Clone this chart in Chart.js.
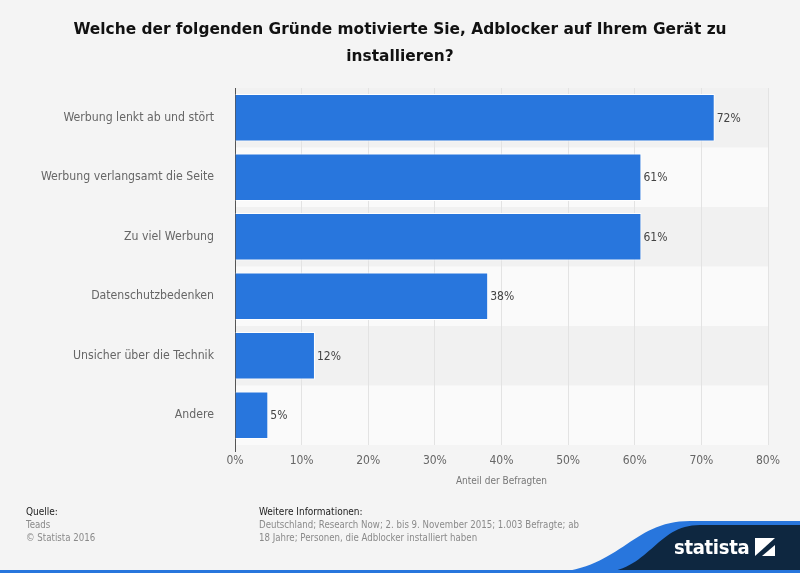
<!DOCTYPE html>
<html>
<head>
<meta charset="utf-8">
<script src="https://cdn.jsdelivr.net/npm/chart.js@4"></script>
<style>
  body { margin: 0; background: #f4f4f4; }
  #wrap { position: relative; width: 800px; height: 573px; overflow: hidden; background: #f4f4f4; }
  #chart { position: absolute; left: 0; top: 0; }
  #title { position: absolute; left: 0; top: 16px; width: 800px; text-align: center;
    font: bold 15.4px "DejaVu Sans", Verdana, sans-serif; color: #111; line-height: 27px; }
  .foot { position: absolute; font: 9.6px "DejaVu Sans Condensed", "DejaVu Sans", sans-serif; line-height: 13px; color: #8a8a8a; }
  .foot b { font-weight: normal; color: #222; font-size: 10px; }
  #logo { position: absolute; left: 0; top: 0; }
  #brand { position: absolute; left: 674px; top: 535px; font: bold 20px "DejaVu Sans Condensed", "DejaVu Sans", sans-serif; color: #fff; letter-spacing: -0.3px; }
</style>
</head>
<body>
<div id="wrap">
  <svg id="logo" width="800" height="573">
    <path d="M 545 573 C 620 572, 630 521, 690 521 L 800 521 L 800 573 Z" fill="#2876dd"/>
    <path d="M 598 573 C 650 572, 655 525, 700 525 L 800 525 L 800 573 Z" fill="#0e2740"/>
    <rect x="0" y="570" width="800" height="3" fill="#2876dd"/>
    <rect x="755" y="538" width="20" height="18" fill="#fff"/>
    <polygon points="755,556 762,556 775,545 775,538" fill="#0e2740"/>
  </svg>
  <canvas id="chart" width="800" height="573"></canvas>
  <div id="title">Welche der folgenden Gründe motivierte Sie, Adblocker auf Ihrem Gerät zu<br>installieren?</div>
  <div class="foot" style="left:26px; top:505px;"><b>Quelle:</b><br>Teads<br>© Statista 2016</div>
  <div class="foot" style="left:259px; top:505px;"><b>Weitere Informationen:</b><br>Deutschland; Research Now; 2. bis 9. November 2015; 1.003 Befragte; ab<br>18 Jahre; Personen, die Adblocker installiert haben</div>
  <div id="brand">statista</div>
</div>
<script>
// Data
const categories = ['Werbung lenkt ab und stört', 'Werbung verlangsamt die Seite', 'Zu viel Werbung', 'Datenschutzbedenken', 'Unsicher über die Technik', 'Andere'];
const values = [72, 61, 61, 38, 12, 5];
const xTicks = [0, 10, 20, 30, 40, 50, 60, 70, 80];
const xTitle = 'Anteil der Befragten';

// Alternating row bands behind the bars
const bands = {
  id: 'bands',
  beforeDraw(chart) {
    const { ctx, chartArea, scales } = chart;
    const y = scales.y;
    const step = (chartArea.bottom - chartArea.top) / categories.length;
    categories.forEach((c, i) => {
      const mid = y.getPixelForValue(i);
      ctx.fillStyle = i % 2 ? '#fafafa' : '#f1f1f1';
      ctx.fillRect(chartArea.left, mid - step / 2, chartArea.right - chartArea.left, step);
    });
  }
};

// Value labels to the right of each bar
const valueLabels = {
  id: 'valueLabels',
  afterDatasetsDraw(chart) {
    const { ctx } = chart;
    ctx.save();
    ctx.font = '12px "DejaVu Sans Condensed", "DejaVu Sans", sans-serif';
    ctx.fillStyle = '#444';
    ctx.textBaseline = 'middle';
    chart.getDatasetMeta(0).data.forEach((bar, i) => {
      ctx.fillText(values[i] + '%', bar.x + 2, bar.y + 1);
    });
    ctx.restore();
  }
};

new Chart(document.getElementById('chart'), {
  type: 'bar',
  data: {
    labels: categories,
    datasets: [{
      data: values,
      backgroundColor: '#2876dd',
      borderColor: '#ffffff',
      borderWidth: 1,
      barPercentage: 0.8,
      categoryPercentage: 1
    }]
  },
  options: {
    indexAxis: 'y',
    responsive: false,
    animation: false,
    layout: { padding: { top: 88, right: 32, left: 0, bottom: 86 } },
    plugins: { legend: { display: false }, tooltip: { enabled: false } },
    scales: {
      x: {
        min: 0,
        max: 80,
        afterBuildTicks: (s) => { s.ticks = xTicks.map(v => ({ value: v })); },
        afterFit: (s) => { s.height = 42; },
        grid: {
          color: (c) => c.index === 0 ? '#555' : '#e3e3e3',
          tickLength: 7,
          tickColor: (c) => c.index === 0 ? '#555' : 'rgba(0,0,0,0)'
        },
        border: { display: false },
        ticks: {
          callback: (v) => v + '%',
          color: '#666',
          padding: 2,
          font: { family: '"DejaVu Sans Condensed", "DejaVu Sans", sans-serif', size: 12 }
        },
        title: {
          display: true,
          text: xTitle,
          color: '#777',
          padding: { top: 4, bottom: 0 },
          font: { family: '"DejaVu Sans Condensed", "DejaVu Sans", sans-serif', size: 10 }
        }
      },
      y: {
        afterFit: (s) => { s.width = 235; },
        grid: { display: false },
        border: { display: true, color: '#555', width: 1 },
        ticks: {
          color: '#666',
          padding: 13,
          font: { family: '"DejaVu Sans Condensed", "DejaVu Sans", sans-serif', size: 12.2 }
        }
      }
    }
  },
  plugins: [bands, valueLabels]
});
</script>
</body>
</html>
